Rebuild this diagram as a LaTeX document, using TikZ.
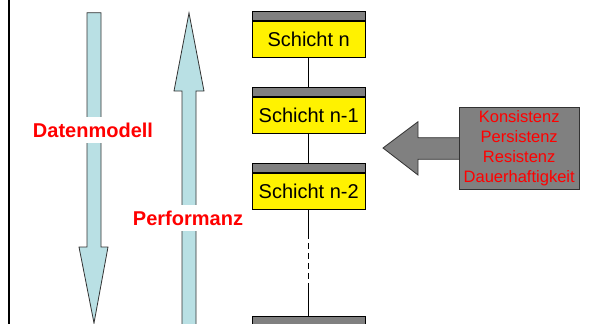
\documentclass[tikz,border=0pt]{standalone}
\usepackage{fontspec}
\setmainfont{Liberation Sans}
\usepackage{xcolor}
\usetikzlibrary{positioning}

\definecolor{pfeilblau}{RGB}{185,224,228}
\definecolor{kopfgrau}{RGB}{128,128,128}
\definecolor{randgrau}{RGB}{50,50,50}

\begin{document}
\begin{tikzpicture}[x=1pt,y=1pt,
  kopf/.style={draw=black,fill=kopfgrau,line width=1pt,minimum width=112.7pt,minimum height=8.7pt,inner sep=0pt},
  schicht/.style={draw=black,fill=yellow,line width=1pt,minimum width=112.7pt,minimum height=36pt,inner sep=0pt,font=\fontsize{20}{24}\selectfont},
  pfeil/.style={draw=randgrau,fill=pfeilblau,line width=0.8pt},
  beschriftung/.style={fill=white,text=red,font=\fontsize{20}{24}\selectfont\bfseries,inner xsep=1pt,inner ysep=6pt},
  verbindung/.style={draw=black,line width=1.2pt}
]
\useasboundingbox (0,0) rectangle (603,-324);
\clip (0,0) rectangle (603,-324);

% left frame line
\draw[line width=2pt] (9,0) -- (9,-324);

% Datenmodell (down) and Performanz (up)
\filldraw[pfeil] (87,-12.7) -- (101,-12.7) -- (101,-247) -- (108,-247) -- (94,-323)
  -- (79,-247) -- (87,-247) -- cycle;
\filldraw[pfeil] (189,-13) -- (204,-91) -- (196,-91) -- (196,-340) -- (182,-340)
  -- (182,-91) -- (174,-91) -- cycle;
\node[beschriftung] (datenmodell) at (93,-130) {Datenmodell};
\node[beschriftung] (performanz) at (188,-218) {Performanz};

% layers
\node[kopf] (kn) at (308.7,-15.9) {};
\node[schicht, below=0pt of kn] (n) {Schicht n};
\node[kopf, below=29.3pt of n] (kn1) {};
\node[schicht, below=0pt of kn1] (n1) {Schicht n-1};
\node[kopf, below=29.3pt of n1] (kn2) {};
\node[schicht, below=0pt of kn2] (n2) {Schicht n-2};
\node[kopf, below=106pt of n2] (kn3) {};
\node[schicht, below=0pt of kn3] (n3) {};

\coordinate[below=23pt of n2] (d1);
\coordinate[below=54pt of d1] (d2);

\draw[verbindung] (n) -- (kn1);
\draw[verbindung] (n1) -- (kn2);
\draw[verbindung] (n2) -- (d1);
\draw[verbindung,dash pattern=on 6pt off 4pt] (d1) -- (d2);
\draw[verbindung] (d2) -- (kn3);

% properties arrow
\filldraw[draw=randgrau,fill=kopfgrau,line width=0.8pt] (383,-148) -- (418,-121.7) -- (418,-137.7)
  -- (460,-137.7) -- (460,-159.3) -- (418,-159.3) -- (418,-175) -- cycle;
\node[draw=randgrau,fill=kopfgrau,line width=0.8pt,minimum width=119.7pt,minimum height=81.7pt,
  inner sep=0pt,align=center,text=red,font=\fontsize{16.5}{20}\selectfont] (eigenschaften) at (519.2,-148.2)
  {Konsistenz\\Persistenz\\Resistenz\\Dauerhaftigkeit};
\end{tikzpicture}
\end{document}
